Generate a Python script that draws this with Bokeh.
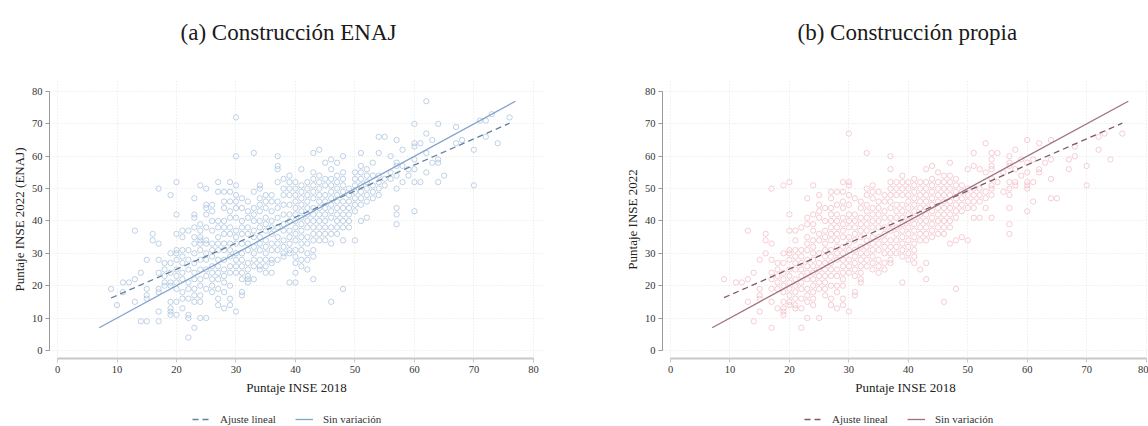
from bokeh.plotting import figure
from bokeh.models import Range1d, FixedTicker, Legend, LegendItem, Label
from bokeh.layouts import row, column
from bokeh.embed import file_html
from bokeh.resources import INLINE

# ---------------- data ----------------
ticks = [0, 10, 20, 30, 40, 50, 60, 70, 80]

# Panel (a): Puntaje INSE 2018 (x columns) vs Puntaje INSE 2022 ENAJ (y values per column)
a_x = [9, 10, 11, 12, 13, 14, 15, 16, 17, 18, 19, 20, 21, 22, 23, 24, 25, 26, 27, 28,
       29, 30, 31, 32, 33, 34, 35, 36, 37, 38, 39, 40, 41, 42, 43, 44, 45, 46, 47, 48,
       49, 50, 51, 52, 53, 54, 55, 56, 57, 58, 59, 60, 61, 62, 63, 64, 65, 67, 68, 70,
       71, 72, 73, 74, 76]
a_y = [
    [19], [14], [21, 18], [21], [37, 22, 15], [24, 9], [28, 19, 17, 16, 9], [36, 34],
    [50, 33, 28, 24, 19, 18, 12, 9], [27, 25, 23, 21, 20],
    [48, 30, 27, 24, 21, 20, 15, 13, 12, 11],
    [52, 42, 36, 31, 30, 28, 25, 23, 21, 19, 15, 11],
    [37, 35, 31, 29, 27, 24, 22, 18, 16, 13],
    [37, 31, 28, 25, 21, 19, 16, 11, 10, 4],
    [47, 42, 41, 38, 35, 33, 30, 27, 24, 22, 19, 17, 15, 7],
    [51, 39, 37, 35, 34, 33, 31, 28, 25, 22, 20, 17, 15, 10],
    [50, 45, 44, 42, 38, 34, 33, 30, 28, 25, 23, 19, 10],
    [45, 43, 40, 37, 33, 31, 29, 26, 24, 22, 20, 18],
    [52, 49, 40, 38, 35, 33, 31, 28, 26, 24, 22, 19, 16, 14],
    [49, 46, 44, 40, 38, 36, 33, 31, 28, 25, 23, 21, 18, 13],
    [52, 49, 46, 43, 41, 38, 36, 33, 31, 29, 26, 24, 20, 16, 14],
    [72, 60, 51, 48, 46, 44, 41, 37, 35, 33, 30, 28, 26, 24, 12],
    [47, 44, 40, 38, 36, 33, 30, 28, 26, 24, 22, 18, 17],
    [46, 43, 41, 38, 36, 33, 31, 27, 25, 23, 22, 21],
    [61, 49, 44, 42, 40, 37, 35, 32, 30, 28, 26, 22],
    [51, 50, 47, 45, 43, 40, 38, 35, 33, 31, 28, 26, 25],
    [48, 46, 44, 41, 39, 37, 34, 32, 30, 28, 26, 24],
    [48, 46, 43, 40, 38, 36, 33, 31, 28, 27, 24],
    [60, 57, 56, 52, 46, 44, 41, 38, 35, 33, 31, 28],
    [53, 50, 48, 45, 42, 39, 37, 34, 32, 30, 29],
    [54, 52, 50, 48, 45, 42, 40, 37, 35, 33, 31, 30, 21],
    [52, 50, 48, 46, 44, 42, 40, 38, 36, 34, 31, 29, 27, 24, 21],
    [56, 51, 49, 47, 45, 43, 41, 39, 37, 35, 33, 31, 28, 26],
    [52, 50, 48, 46, 44, 42, 40, 38, 35, 33, 30, 28, 25],
    [61, 55, 53, 51, 49, 47, 44, 42, 40, 38, 36, 34, 31, 29, 22],
    [62, 54, 52, 50, 48, 46, 44, 42, 40, 38, 36, 34],
    [58, 53, 51, 48, 46, 44, 42, 40, 38, 36, 34],
    [59, 56, 53, 51, 49, 47, 45, 43, 41, 38, 36, 33, 15],
    [58, 54, 52, 50, 48, 46, 44, 42, 40, 38, 36],
    [60, 55, 53, 51, 49, 46, 44, 42, 40, 38, 34, 19],
    [50, 48, 46, 44, 42, 40, 38],
    [55, 53, 51, 49, 47, 45, 43, 34],
    [61, 57, 55, 53, 51, 49, 47, 45, 40],
    [56, 54, 52, 50, 48, 46, 41],
    [58, 54, 51, 49, 47],
    [66, 61, 54, 52, 50, 48],
    [66, 53, 51],
    [60, 55, 53],
    [65, 58, 57, 54, 50, 44, 42, 39],
    [62, 57, 52],
    [56, 54],
    [70, 64, 63, 59, 56, 52, 43],
    [64, 52],
    [77, 67, 61, 55],
    [65, 58],
    [70, 59, 58, 52],
    [54],
    [69, 64],
    [65],
    [62, 51],
    [71],
    [71, 66],
    [73],
    [64],
    [72],
]

# Panel (b): Puntaje INSE 2018 (x columns) vs Puntaje INSE 2022 own construction
b_x = [9, 11, 12, 13, 14, 15, 16, 17, 18, 19, 20, 21, 22, 23, 24, 25, 26, 27, 28, 29,
       30, 31, 32, 33, 34, 35, 36, 37, 38, 39, 40, 41, 42, 43, 44, 45, 46, 47, 48, 49,
       50, 51, 52, 53, 54, 55, 56, 57, 58, 59, 60, 61, 62, 63, 64, 65, 67, 68, 70, 72,
       73, 74, 76]
b_y = [
    [22], [21], [21], [37, 22, 15], [24, 9], [28, 19, 17, 16, 12], [36, 34, 30],
    [50, 33, 28, 24, 22, 19, 15, 7], [27, 25, 23, 21, 19, 13],
    [51, 30, 27, 24, 22, 20, 18, 15, 13, 12, 11],
    [52, 42, 37, 31, 30, 28, 25, 23, 21, 19, 17, 15, 14],
    [37, 34, 31, 29, 27, 25, 22, 20, 18, 16, 14, 13],
    [38, 31, 29, 27, 25, 23, 21, 19, 16, 13, 7],
    [47, 41, 39, 35, 33, 31, 28, 26, 24, 22, 19, 17, 15, 10],
    [51, 42, 39, 37, 34, 32, 30, 28, 26, 24, 22, 20, 18, 16, 14],
    [48, 45, 43, 41, 36, 34, 30, 27, 25, 23, 21, 19, 10],
    [44, 40, 37, 35, 33, 31, 29, 27, 25, 23, 21, 19, 17],
    [49, 47, 44, 42, 40, 38, 36, 34, 31, 29, 27, 25, 23, 20, 16, 14],
    [49, 45, 42, 40, 38, 36, 34, 32, 30, 28, 25, 23, 20, 18, 13],
    [52, 49, 46, 44, 41, 39, 37, 35, 32, 30, 28, 26, 24, 22, 20, 16, 14],
    [67, 52, 51, 48, 45, 42, 40, 38, 35, 33, 31, 28, 26, 24, 12],
    [47, 42, 40, 38, 36, 34, 31, 29, 27, 25, 23, 18, 17],
    [46, 44, 41, 39, 37, 35, 32, 30, 28, 26, 24, 22, 21],
    [61, 50, 48, 45, 43, 41, 39, 37, 34, 32, 30, 28, 26],
    [51, 49, 47, 44, 42, 40, 38, 35, 33, 31, 29, 27, 25],
    [49, 46, 44, 42, 40, 38, 35, 33, 31, 28, 26, 24],
    [48, 46, 43, 41, 38, 36, 34, 32, 30, 27, 25],
    [60, 56, 52, 50, 48, 46, 44, 41, 39, 37, 34, 32, 30, 28, 27],
    [52, 50, 48, 45, 43, 41, 38, 36, 34, 32, 30],
    [54, 52, 50, 48, 45, 43, 41, 39, 37, 35, 33, 31, 29, 21],
    [52, 50, 48, 46, 44, 42, 40, 38, 36, 34, 32, 30, 28],
    [53, 51, 49, 47, 45, 43, 41, 39, 37, 35, 33, 31, 29, 27],
    [52, 50, 48, 46, 44, 42, 40, 38, 36, 34, 25],
    [56, 52, 50, 48, 46, 44, 42, 40, 38, 36, 34, 27, 22],
    [57, 53, 51, 49, 47, 45, 43, 41, 39, 37, 35],
    [55, 52, 50, 48, 46, 44, 42, 40, 38, 36],
    [54, 52, 50, 48, 46, 44, 42, 40, 38, 36, 15],
    [58, 54, 52, 50, 48, 46, 44, 42, 40, 38, 33],
    [53, 51, 49, 47, 45, 43, 41, 34, 19],
    [51, 49, 47, 45, 43, 35],
    [56, 50, 48, 46, 44, 34],
    [61, 57, 50, 48, 46, 44, 41],
    [56, 50, 48, 46, 41],
    [64, 55, 49, 47, 44],
    [61, 59, 57, 56, 53, 51, 50, 48, 41],
    [61, 52],
    [55, 49],
    [60, 58, 57, 52, 50, 48, 44, 39, 36],
    [62, 56, 52, 51],
    [59, 54],
    [65, 58, 55, 52, 51, 50, 43],
    [59, 52, 46],
    [64, 56, 55],
    [58],
    [65, 59, 53, 47],
    [47],
    [59, 56],
    [63, 60],
    [57, 51],
    [66, 62],
    [67],
    [59],
    [67],
]

# fitted line end points and "no change" line (y = x) end points
a_fit_x = [9, 76]
a_fit_y = [16.2, 70.2]
b_fit_x = [9, 76]
b_fit_y = [16.3, 70.2]
id_x = [7, 77]
id_y = [7, 77]

legend_labels = ["Ajuste lineal", "Sin variación"]

SERIF = "Liberation Serif"
TITLE_H, MAIN_H, LEG_H = 62, 338, 26


def flatten(xs, ycols):
    fx, fy = [], []
    for x, ys in zip(xs, ycols):
        for y in ys:
            fx.append(x)
            fy.append(y)
    return fx, fy


def blank_fig(width, height, offset=0):
    # offset moves the (empty) visible window away from any data drawn in it
    f = figure(width=width, height=height, output_backend="svg", toolbar_location=None,
               x_range=Range1d(offset, offset + width),
               y_range=Range1d(offset, offset + height),
               x_axis_type=None, y_axis_type=None, min_border=0,
               min_border_left=0, min_border_right=0, min_border_top=0,
               min_border_bottom=0, outline_line_color=None,
               background_fill_color="white", border_fill_color="white")
    f.grid.visible = False
    return f


def make_panel(title, ylabel, xs, ycols, fit_x, fit_y, circ_col, fit_col, id_col,
               width, left, right, xend, title_cx, leg_x):
    # ---- title strip ----
    t = blank_fig(width, TITLE_H)
    t.add_layout(Label(x=title_cx, y=TITLE_H - 32, text=title, text_align="center",
                       text_baseline="middle", text_font=SERIF,
                       text_font_size="23px", text_color="#1a1a1a"))

    # ---- main scatter ----
    p = figure(width=width, height=MAIN_H, output_backend="svg", toolbar_location=None,
               x_range=Range1d(-1.35, xend), y_range=Range1d(-2.5, 83.4),
               min_border_left=left, min_border_right=right, min_border_top=18,
               min_border_bottom=42, background_fill_color="white",
               border_fill_color="white", outline_line_color=None)
    fx, fy = flatten(xs, ycols)
    p.scatter(fx, fy, marker="circle", size=5.3, fill_color=None,
              line_color=circ_col, line_width=1, line_alpha=0.75)
    p.line(fit_x, fit_y, line_color=fit_col, line_width=1.3, line_dash="6 4")
    p.line(id_x, id_y, line_color=id_col, line_width=1.3)

    for ax in (p.xaxis[0], p.yaxis[0]):
        ax.ticker = FixedTicker(ticks=ticks)
        ax.bounds = (0, 80)
        ax.major_label_text_font = SERIF
        ax.major_label_text_font_size = "10.5px"
        ax.major_label_text_color = "#333333"
        ax.axis_label_text_font = SERIF
        ax.axis_label_text_font_size = "13px"
        ax.axis_label_text_font_style = "normal"
        ax.axis_label_text_color = "#222222"
        ax.major_tick_in = 0
        ax.major_tick_out = 4
        ax.minor_tick_out = 0
        ax.minor_tick_in = 0
        ax.major_label_standoff = 3
        ax.axis_label_standoff = 2
    p.xaxis.axis_label_standoff = 4
    p.xaxis.axis_label = "Puntaje INSE 2018"
    p.yaxis.axis_label = ylabel
    p.xaxis.axis_line_color = "#c8c8c8"
    p.xaxis.axis_line_width = 2
    p.xaxis.major_tick_line_color = "#c8c8c8"
    p.yaxis.axis_line_color = "#999999"
    p.yaxis.major_tick_line_color = "#999999"

    for g in (p.xgrid[0], p.ygrid[0]):
        g.ticker = FixedTicker(ticks=ticks)
        g.grid_line_color = "#e4e4e4"
        g.grid_line_dash = "1 2"
        g.grid_line_width = 1

    # ---- legend strip (lines drawn outside its visible window, only the key shows) ----
    lg = blank_fig(width, LEG_H, offset=1000)
    r_fit = lg.line(fit_x, fit_y, line_color=fit_col, line_width=1.3, line_dash="6 4")
    r_id = lg.line(id_x, id_y, line_color=id_col, line_width=1.3)
    legend = Legend(items=[LegendItem(label=legend_labels[0], renderers=[r_fit]),
                           LegendItem(label=legend_labels[1], renderers=[r_id])],
                    orientation="horizontal", location=(leg_x, 1),
                    label_text_font=SERIF, label_text_font_size="11px",
                    label_text_color="#333333", glyph_width=18, glyph_height=10,
                    spacing=19, padding=1, margin=0, border_line_color=None,
                    background_fill_alpha=0, label_standoff=10)
    lg.add_layout(legend)
    return column(t, p, lg)


pa = make_panel("(a) Construcción ENAJ", "Puntaje INSE 2022 (ENAJ)", a_x, a_y,
                a_fit_x, a_fit_y, "#a9c2dc", "#62809f", "#82a3cc",
                620, 49, 77, 81.7, 300, 143)
pb = make_panel("(b) Construcción propia", "Puntaje INSE 2022", b_x, b_y,
                b_fit_x, b_fit_y, "#f0bcc6", "#7d5a65", "#a07080",
                528, 42, 0, 80.4, 266, 142)

layout = row(pa, pb)
open("out.html", "w").write(file_html(layout, INLINE))
